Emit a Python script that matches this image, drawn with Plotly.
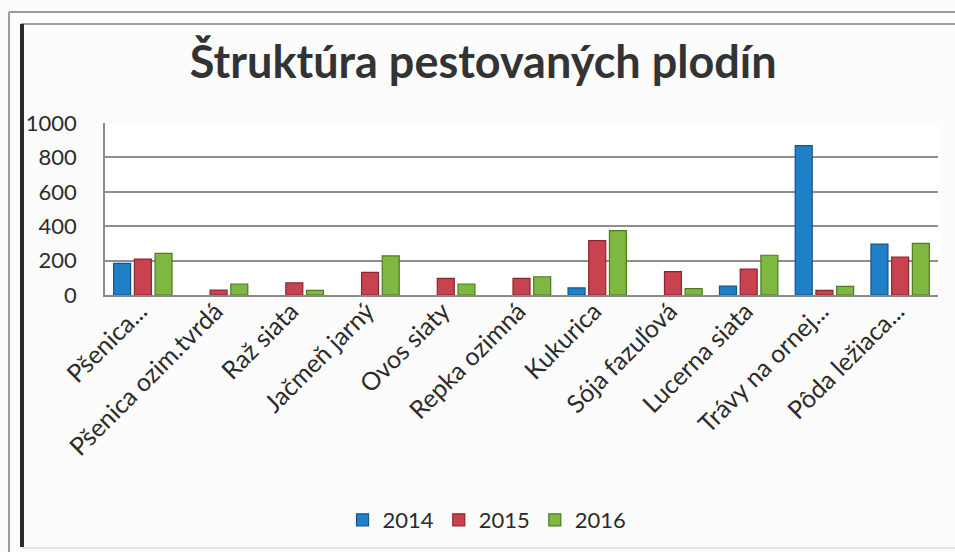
import plotly.graph_objects as go

categories = ["Pšenica...", "Pšenica ozim.tvrdá", "Raž siata", "Jačmeň jarný", "Ovos siaty",
              "Repka ozimná", "Kukurica", "Sója fazuľová", "Lucerna siata", "Trávy na ornej...",
              "Pôda ležiaca..."]
years = ["2014", "2015", "2016"]
v2014 = [184, None, None, None, None, None, 41, None, 52, 868, 296]
v2015 = [209, 29, 70, 132, 97, 97, 316, 136, 151, 27, 221]
v2016 = [242, 64, 27, 227, 64, 106, 374, 37, 231, 50, 300]
y_ticks = [0, 200, 400, 600, 800, 1000]

fills = ["#1f80c8", "#c9424f", "#7fb840"]
lines = ["#12548a", "#8a2630", "#4f7a22"]
FONT = "Lato"

fig = go.Figure()
for name, vals, fc, lc in zip(years, [v2014, v2015, v2016], fills, lines):
    fig.add_trace(go.Bar(x=categories, y=vals, name=name,
                         marker=dict(color=fc, line=dict(color=lc, width=1.2))))

# pixel -> paper helpers for decorative frame
L, R, T, B = 105, 938, 123, 295
def px(x):
    return (x - L) / (R - L)
def py(y):
    return (B - y) / (B - T)

shapes = [
    dict(type="line", xref="paper", yref="paper", x0=px(9), x1=px(955), y0=py(12), y1=py(12),
         line=dict(color="#9a9a9a", width=2)),
    dict(type="line", xref="paper", yref="paper", x0=px(9), x1=px(9), y0=py(12), y1=py(552),
         line=dict(color="#9a9a9a", width=2)),
    dict(type="line", xref="paper", yref="paper", x0=px(21), x1=px(955), y0=py(24), y1=py(24),
         line=dict(color="#a0a0a0", width=2)),
    dict(type="line", xref="paper", yref="paper", x0=px(22), x1=px(22), y0=py(24), y1=py(547),
         line=dict(color="#2a2a2a", width=4)),
    dict(type="line", xref="paper", yref="paper", x0=px(22), x1=px(955), y0=py(548), y1=py(548),
         line=dict(color="#d8dde0", width=1.5)),
]

fig.update_layout(
    width=955, height=552,
    margin=dict(l=L, r=955 - R, t=T, b=552 - B),
    paper_bgcolor="#fcfcfc", plot_bgcolor="#ffffff",
    font=dict(family=FONT, color="#2b2b2b"),
    title=dict(text="<b>Štruktúra pestovaných plodín</b>", x=0.506, xanchor="center",
               y=1 - 62 / 552, yanchor="middle", yref="container",
               font=dict(family=FONT, size=45, color="#333333")),
    barmode="group", bargap=0.18, bargroupgap=0.18,
    showlegend=True,
    legend=dict(orientation="h", x=px(487), xanchor="center", y=py(520), yanchor="middle",
                font=dict(family=FONT, size=22, color="#2b2b2b"), itemwidth=30,
                bgcolor="rgba(0,0,0,0)"),
    shapes=shapes,
)
fig.update_xaxes(tickangle=-45, tickfont=dict(family=FONT, size=25, color="#2b2b2b"),
                 ticklabelshift=-3, ticklabelstandoff=-10,
                 showline=True, linecolor="#8a8a8a", linewidth=1.5, ticks="", showgrid=False)
fig.update_yaxes(range=[0, 1000], tickvals=y_ticks, ticktext=[str(t) for t in y_ticks],
                 tickfont=dict(family=FONT, size=22, color="#2b2b2b"), ticklabelstandoff=22,
                 showline=True, linecolor="#8a8a8a", linewidth=1.5, mirror=False,
                 showgrid=True, gridcolor="#8f8f8f", gridwidth=1.5, zeroline=False,
                 ticks="", ticklen=0)

fig.write_html("out.html", config={"displayModeBar": False},
               post_script="document.body.style.margin='0';document.body.style.overflow='hidden';")
